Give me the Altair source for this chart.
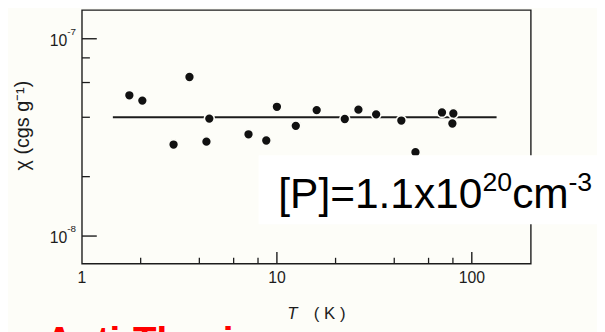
import altair as alt
import pandas as pd

# ---- data ----
T_K = [1.75, 2.04, 2.95, 3.56, 4.35, 4.50, 7.15, 8.82, 10.0, 12.5,
       16.0, 22.3, 26.2, 32.3, 43.5, 51.4, 70.3, 80.4, 79.5]
chi = [5.17e-8, 4.86e-8, 2.91e-8, 6.40e-8, 3.01e-8, 3.94e-8, 3.28e-8, 3.05e-8,
       4.52e-8, 3.62e-8, 4.35e-8, 3.92e-8, 4.37e-8, 4.14e-8, 3.85e-8, 2.66e-8,
       4.23e-8, 4.18e-8, 3.72e-8]
fit_T = [1.44, 134.0]
fit_chi = [4.0e-8, 4.0e-8]

x_major = [10, 100]
x_minor = [2, 4, 6, 8, 20, 40, 60, 80]
y_major = [1e-8, 1e-7]
y_minor = [2e-8, 4e-8, 6e-8, 8e-8]
x_label_vals = [1, 10, 100]
x_tick_labels = ["1", "10", "100"]
y_label_vals = [1e-7, 1e-8]
y_label_base = ["10", "10"]
y_label_exps = ["-7", "-8"]

annot_main = ["[P]=1.1x10"]
annot_sup1 = ["20"]
annot_unit = ["cm"]
annot_sup2 = ["-3"]
x_title_var = ["T"]
x_title_unit = ["( K )"]
y_title = ["χ (cgs g⁻¹)"]
red_text = ["Anti-Thesis"]

W, H = 455, 257
INK = "#1c1c1c"
FONT = "Liberation Sans"

xs = alt.Scale(type="log", domain=[1, 201], nice=False)
ys = alt.Scale(type="log", domain=[7.24e-9, 1.396e-7], nice=False)

pts = pd.DataFrame({"T": T_K, "chi": chi})
fit = pd.DataFrame({"T": fit_T, "chi": fit_chi})

frame = alt.Chart(pd.DataFrame({"a": [0]})).mark_rect(
    fill=None, stroke=INK, strokeWidth=1.4
).encode(x=alt.value(0), x2=alt.value(W), y=alt.value(0), y2=alt.value(H))

xmaj = alt.Chart(pd.DataFrame({"v": x_major})).mark_rule(color=INK, strokeWidth=1.4).encode(
    x=alt.X("v:Q", scale=xs, axis=None), y=alt.value(H), y2=alt.value(H - 12))
xmin = alt.Chart(pd.DataFrame({"v": x_minor})).mark_rule(color=INK, strokeWidth=1.3).encode(
    x=alt.X("v:Q", scale=xs, axis=None), y=alt.value(H), y2=alt.value(H - 6))
ymaj = alt.Chart(pd.DataFrame({"v": y_major})).mark_rule(color=INK, strokeWidth=1.4).encode(
    y=alt.Y("v:Q", scale=ys, axis=None), x=alt.value(0), x2=alt.value(15))
ymin = alt.Chart(pd.DataFrame({"v": y_minor})).mark_rule(color=INK, strokeWidth=1.3).encode(
    y=alt.Y("v:Q", scale=ys, axis=None), x=alt.value(0), x2=alt.value(8))

line = alt.Chart(fit).mark_line(color=INK, strokeWidth=2.2).encode(
    x=alt.X("T:Q", scale=xs, axis=None), y=alt.Y("chi:Q", scale=ys, axis=None))

points = alt.Chart(pts).mark_point(
    filled=True, fill="#111111", stroke="#fdfdf8", strokeWidth=1.6, size=100, opacity=1, shape="circle"
).encode(x=alt.X("T:Q", scale=xs, axis=None), y=alt.Y("chi:Q", scale=ys, axis=None))

# x tick labels
xlab = alt.Chart(pd.DataFrame({"v": x_label_vals, "t": x_tick_labels})).mark_text(
    font=FONT, fontSize=16, color=INK, baseline="top", align="center"
).encode(x=alt.X("v:Q", scale=xs, axis=None), y=alt.value(H + 7), text="t:N")

# y tick labels with superscript exponent
ylab = alt.Chart(pd.DataFrame({"v": y_label_vals, "t": y_label_base})).mark_text(
    font=FONT, fontSize=16, color=INK, baseline="middle", align="right", dy=2
).encode(y=alt.Y("v:Q", scale=ys, axis=None), x=alt.value(-15), text="t:N")
yexp = alt.Chart(pd.DataFrame({"v": y_label_vals, "t": y_label_exps})).mark_text(
    font=FONT, fontSize=10, color=INK, baseline="middle", align="left", dy=-7
).encode(y=alt.Y("v:Q", scale=ys, axis=None), x=alt.value(-15), text="t:N")

# axis titles
xt1 = alt.Chart(pd.DataFrame({"t": x_title_var})).mark_text(
    font=FONT, fontSize=17, fontStyle="italic", color=INK, baseline="middle", align="left"
).encode(x=alt.value(208), y=alt.value(308), text="t:N")
xt2 = alt.Chart(pd.DataFrame({"t": x_title_unit})).mark_text(
    font=FONT, fontSize=17, color=INK, baseline="middle", align="left"
).encode(x=alt.value(235), y=alt.value(308), text="t:N")
yt = alt.Chart(pd.DataFrame({"t": y_title})).mark_text(
    font=FONT, fontSize=20, color=INK, baseline="middle", align="center", angle=270
).encode(x=alt.value(-60), y=alt.value(117), text="t:N")

# annotation box and text
box = alt.Chart(pd.DataFrame({"a": [0]})).mark_rect(fill="white", stroke=None).encode(
    x=alt.value(179), x2=alt.value(530), y=alt.value(147), y2=alt.value(217))
a1 = alt.Chart(pd.DataFrame({"t": annot_main})).mark_text(
    font=FONT, fontSize=43, color="black", baseline="alphabetic", align="left"
).encode(x=alt.value(199), y=alt.value(201), text="t:N")
a2 = alt.Chart(pd.DataFrame({"t": annot_sup1})).mark_text(
    font=FONT, fontSize=27, color="black", baseline="alphabetic", align="left"
).encode(x=alt.value(406), y=alt.value(183), text="t:N")
a3 = alt.Chart(pd.DataFrame({"t": annot_unit})).mark_text(
    font=FONT, fontSize=43, color="black", baseline="alphabetic", align="left"
).encode(x=alt.value(436), y=alt.value(201), text="t:N")
a4 = alt.Chart(pd.DataFrame({"t": annot_sup2})).mark_text(
    font=FONT, fontSize=27, color="black", baseline="alphabetic", align="left"
).encode(x=alt.value(493), y=alt.value(183), text="t:N")

red = alt.Chart(pd.DataFrame({"t": red_text})).mark_text(
    font=FONT, fontSize=39, fontWeight="bold", color="#ff0000", baseline="alphabetic", align="left"
).encode(x=alt.value(-37), y=alt.value(348), text="t:N")

chart = alt.layer(
    frame, xmaj, xmin, ymaj, ymin, line, points, box, a1, a2, a3, a4,
    xlab, ylab, yexp, xt1, xt2, yt, red
).properties(
    width=W, height=H,
    autosize=alt.AutoSizeParams(type="none"),
    padding={"left": 75, "top": 0, "right": 67, "bottom": 67},
    background="#fdfdf8",
).configure_view(stroke=None)

chart.save("out.html", embed_options={"renderer": "svg", "actions": False})
